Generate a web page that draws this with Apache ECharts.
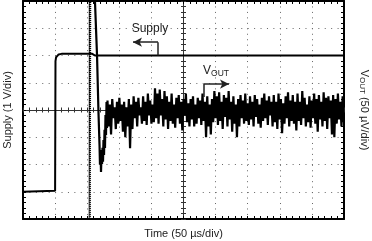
<!DOCTYPE html>
<html><head><meta charset="utf-8">
<script src="https://cdn.jsdelivr.net/npm/echarts@6/dist/echarts.min.js"></script>
<style>html,body{margin:0;padding:0;background:#fff}#c{width:372px;height:241px}</style>
</head><body><div id="c"></div>
<script>
// ---- data (time in µs, amplitude in divisions) ----
const supplyT = [0, 50, 50.3, 50.6, 51.5, 53, 55.5, 60, 108, 112, 500];
const supplyV = [-3.0, -2.96, -2.95, 1.79, 1.93, 2.0, 2.04, 2.06, 2.06, 2.0, 2.0];

const spikeT = [0, 103, 103.6, 104.4, 105.2];
const spikeV = [-4.6, -4.6, 4.6, -4.6, 4.6];

const voutStartT = [105.2, 111, 112.1, 115.3, 117.6, 119.2, 119.9, 120.7, 121.5, 122.3, 123.1, 123.8, 124.6, 125.4, 126.2, 127.0, 127.7, 128.5, 129.3, 130.1, 130.8];
const voutStartV = [4.6, 4.6, 4.0, 2.01, -0.11, -1.28, -2.01, -1.47, -2.27, -1.65, -1.98, -1.39, -1.90, -1.10, -1.65, -0.73, -1.39, -0.18, -0.92, 0.29, -0.66];

const noiseStartT = 131.6, noiseStepT = 1.85;
const noiseV = [
 0.35,-0.6,0.2,-0.9,0.4,-0.3,0.1,-0.7,0.3,-0.5,
 0.45,-0.4,0.2,-0.8,0.3,-1.0,0.1,-0.6,0.4,-1.4,
 0.2,-0.7,0.5,-0.3,0.3,-0.6,0.45,-0.2,0.1,-0.5,
 0.5,-0.4,0.3,-0.55,0.6,-0.2,0.35,-0.5,0.2,-0.45,
 0.8,-0.3,0.6,-0.5,0.75,-0.2,0.4,-0.6,0.7,-0.35,
 0.5,-0.7,0.3,-0.4,0.6,-0.5,0.2,-0.65,0.45,-0.3,
 0.55,-0.5,0.3,-0.75,0.4,-0.2,0.6,-0.45,0.25,-0.6,
 0.4,-0.35,0.5,-0.6,0.2,-0.5,0.45,-0.3,0.35,-0.55,
 0.6,-0.4,0.3,-1.0,0.5,-0.6,0.2,-0.9,0.4,-0.45,
 0.7,-0.3,0.5,-0.55,0.65,-0.4,0.3,-0.7,0.55,-0.25,
 0.45,-0.6,0.7,-0.35,0.3,-0.8,0.5,-0.5,0.2,-1.0,
 0.4,-0.6,0.55,-0.3,0.35,-0.5,0.6,-0.4,0.25,-0.55,
 0.5,-0.35,0.3,-0.6,0.55,-0.25,0.4,-0.5,0.2,-0.65,
 0.45,-0.4,0.6,-0.3,0.35,-0.55,0.5,-0.2,0.3,-0.6,
 0.55,-0.45,0.3,-0.7,0.6,-0.35,0.4,-0.85,0.25,-0.5,
 0.5,-0.3,0.65,-0.6,0.35,-0.4,0.55,-0.5,0.3,-0.75,
 0.6,-0.4,0.3,-0.55,0.7,-0.3,0.45,-0.6,0.2,-0.45,
 0.5,-0.65,0.35,-0.3,0.6,-0.5,0.4,-0.8,0.55,-0.35,
 0.3,-0.6,0.65,-0.4,0.45,-0.7,0.5,-0.3,0.35,-0.9,
 0.55,-1.0,0.4,-0.5,0.6,-0.35,0.3,-0.6,0.5,-0.45
];

// annotations (data units)
const supplyLabelAt = [197.8, 3.0];
const supplyArrow = [[210.3, 2.0], [210.3, 2.49], [171.3, 2.49]];
const voutLabelAt = [280.4, 1.43];
const voutArrow = [[281.9, 0.48], [281.9, 0.95], [320.9, 0.95]];

const FONT = "'Liberation Sans', Arial, sans-serif";
const supplyData = supplyT.map((t, i) => [t, supplyV[i]]);
const spikeData = spikeT.map((t, i) => [t, spikeV[i]]);
const voutData = voutStartT.map((t, i) => [t, voutStartV[i]])
  .concat(noiseV.map((v, i) => [noiseStartT + i * noiseStepT, v]));

const chart = echarts.init(document.getElementById('c'), null, {renderer: 'canvas'});
const G = {left: 23, right: 28, top: 1, bottom: 22, outerBoundsMode: 'none', containLabel: false};
const tickC = '#000';
function mainX(pos, extra) {
  return Object.assign({
    type: 'value', gridIndex: 0, position: pos, min: 0, max: 500, interval: 50,
    axisLine: {onZero: false, lineStyle: {color: '#000', width: 2}},
    axisTick: {inside: true, length: 3, lineStyle: {color: tickC}},
    minorTick: {show: true, splitNumber: 5, length: 3, lineStyle: {color: tickC}},
    axisLabel: {show: false}, splitLine: {show: false}
  }, extra || {});
}
function mainY(pos, extra) {
  return Object.assign({
    type: 'value', gridIndex: 0, position: pos, min: -4, max: 4, interval: 1,
    axisLine: {onZero: false, lineStyle: {color: '#000', width: 2}},
    axisTick: {inside: true, length: 3, lineStyle: {color: tickC}},
    minorTick: {show: true, splitNumber: 5, length: 3, lineStyle: {color: tickC}},
    axisLabel: {show: false}, splitLine: {show: false}
  }, extra || {});
}
function crossX(g, inside, showLine) {
  return {type: 'value', gridIndex: g, min: -250, max: 250, interval: 50,
    axisLine: {show: showLine, onZero: true, lineStyle: {color: '#333', width: 1}},
    axisTick: {inside: inside, length: 2.5, lineStyle: {color: '#333'}},
    minorTick: {show: true, splitNumber: 5, length: 2.5, lineStyle: {color: '#333'}},
    axisLabel: {show: false}, splitLine: {show: false}};
}
function crossY(g, inside, showLine) {
  return {type: 'value', gridIndex: g, min: -4, max: 4, interval: 1,
    axisLine: {show: showLine, onZero: true, lineStyle: {color: '#333', width: 1}},
    axisTick: {inside: inside, length: 2.5, lineStyle: {color: '#333'}},
    minorTick: {show: true, splitNumber: 5, length: 2.5, lineStyle: {color: '#333'}},
    axisLabel: {show: false}, splitLine: {show: false}};
}

const nameStyle = {fontFamily: FONT, fontSize: 11, color: '#222'};
const option = {
  animation: false,
  backgroundColor: '#fff',
  grid: [Object.assign({}, G), Object.assign({}, G), Object.assign({}, G)],
  xAxis: [
    mainX('bottom', {
      name: 'Time (50 µs/div)', nameLocation: 'middle', nameGap: 9, nameTextStyle: nameStyle,
      splitLine: {show: true, lineStyle: {color: '#666', width: 1, type: [1, 4.46]}}
    }),
    mainX('top'),
    crossX(1, false, true),
    crossX(2, true, false)
  ],
  yAxis: [
    mainY('left', {
      name: 'Supply (1 V/div)', nameLocation: 'middle', nameGap: 10, nameTextStyle: nameStyle,
      splitLine: {show: true, lineStyle: {color: '#666', width: 1, type: [1, 5.42]}}
    }),
    mainY('right', {
      name: '{a|V}{b|OUT}{a| (50 µV/div)}', nameLocation: 'middle', nameGap: 14, nameRotate: -90,
      nameTextStyle: {fontFamily: FONT, color: '#222', rich: {
        a: {fontFamily: FONT, fontSize: 11, color: '#222'},
        b: {fontFamily: FONT, fontSize: 8, color: '#222', padding: [5, 0, 0, 0]}
      }}
    }),
    crossY(1, false, true),
    crossY(2, true, false)
  ],
  series: [
    {type: 'line', name: 'Supply', xAxisIndex: 0, yAxisIndex: 0, data: supplyData,
      showSymbol: false, symbol: 'none', smooth: false, z: 4,
      lineStyle: {color: '#000', width: 2}},
    {type: 'line', name: 'VOUT spike', xAxisIndex: 0, yAxisIndex: 0, data: spikeData,
      showSymbol: false, symbol: 'none', clip: true, z: 3,
      lineStyle: {color: '#000', width: 1.5, type: [1, 1]}},
    {type: 'line', name: 'VOUT', xAxisIndex: 0, yAxisIndex: 0, data: voutData,
      showSymbol: false, symbol: 'none', clip: true, z: 3,
      lineStyle: {color: '#000', width: 2.2}},
    {type: 'line', name: 'annot', xAxisIndex: 0, yAxisIndex: 0, data: [], symbol: 'none',
      markLine: {silent: true, animation: false, label: {show: false},
        data: [
          [{coord: supplyArrow[0], symbol: 'none'}, {coord: supplyArrow[1], symbol: 'none'}],
          [{coord: supplyArrow[1], symbol: 'none'}, {coord: supplyArrow[2], symbol: 'arrow', symbolSize: [7, 9]}],
          [{coord: voutArrow[0], symbol: 'none'}, {coord: voutArrow[1], symbol: 'none'}],
          [{coord: voutArrow[1], symbol: 'none'}, {coord: voutArrow[2], symbol: 'arrow', symbolSize: [7, 9]}]
        ],
        lineStyle: {color: '#222', width: 1.5, type: 'solid'}
      }}
  ]
};
chart.setOption(option);

const sp = chart.convertToPixel({gridIndex: 0}, supplyLabelAt);
const vp = chart.convertToPixel({gridIndex: 0}, voutLabelAt);
chart.setOption({
  graphic: [
    {type: 'text', x: sp[0], y: sp[1], z: 10, style: {text: 'Supply', fontFamily: FONT, fontSize: 12,
      fill: '#222', align: 'center', verticalAlign: 'middle'}},
    {type: 'text', x: vp[0], y: vp[1], z: 10, style: {text: '{a|V}{b|OUT}', align: 'left', verticalAlign: 'middle',
      rich: {a: {fontFamily: FONT, fontSize: 12, fill: '#222'}, b: {fontFamily: FONT, fontSize: 8.5, fill: '#222', padding: [5, 0, 0, 0]}}}}
  ]
});
</script></body></html>
